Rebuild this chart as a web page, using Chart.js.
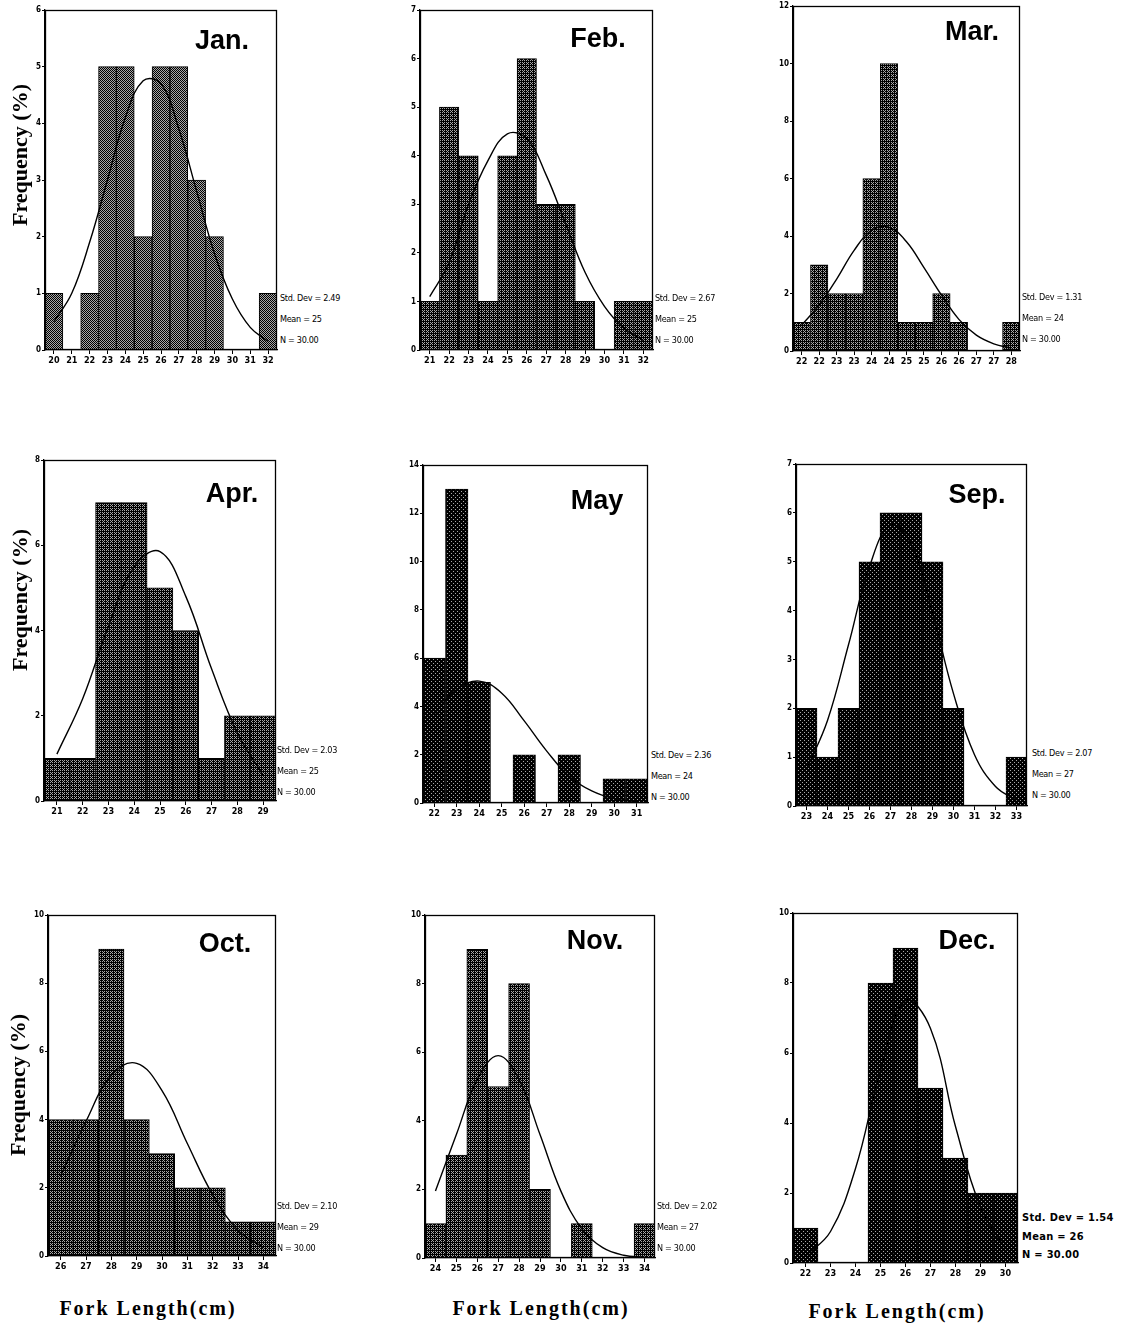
<!DOCTYPE html>
<html>
<head>
<meta charset="utf-8">
<script src="https://cdn.jsdelivr.net/npm/chart.js@4.4.1/dist/chart.umd.min.js"></script>
<style>
  html,body{margin:0;padding:0;background:#fff;}
  #page{position:relative;width:1121px;height:1325px;overflow:hidden;background:#fff;}
  canvas{position:absolute;}
  .month{position:absolute;font-family:"Liberation Sans",Arial,sans-serif;font-weight:bold;font-size:27px;color:#000;transform:translate(-50%,-50%);white-space:nowrap;}
  .stats{position:absolute;font-family:"Liberation Sans Narrow","DejaVu Sans Condensed","Liberation Sans",Arial,sans-serif;font-size:9px;color:#000;white-space:nowrap;line-height:1;transform:translateY(-50%);letter-spacing:-0.3px;}
  .stats.big{font-weight:bold;font-size:11px;letter-spacing:0.3px;}
  .ylab{position:absolute;font-family:"Liberation Serif","Times New Roman",serif;font-weight:bold;font-size:22px;color:#000;white-space:nowrap;transform:translate(-50%,-50%) rotate(-90deg);}
  .xlab{position:absolute;font-family:"Liberation Serif","Times New Roman",serif;font-weight:bold;font-size:20px;letter-spacing:2px;color:#000;white-space:nowrap;transform:translate(-50%,-50%);}
</style>
</head>
<body>
<div id="page"></div>
<script>
// ---------------- DATA ----------------
const janLabels = ['20','21','22','23','24','25','26','27','28','29','30','31','32'];
const janCounts = [1,0,1,5,5,2,5,5,3,2,0,0,1];
const janCurve  = [0.5,1.0,1.9,3.0,4.1,4.75,4.7,3.9,2.8,1.7,0.9,0.4,0.15];

const febLabels = ['21','22','23','24','25','26','27','28','29','30','31','32'];
const febCounts = [1,5,4,1,4,6,3,3,1,0,1,1];
const febCurve  = [1.1,1.8,3.0,3.9,4.45,4.35,3.6,2.6,1.6,0.9,0.45,0.2];

const marLabels = ['22','22','23','23','24','24','25','25','26','26','27','27','28'];
const marCounts = [1,3,2,2,6,10,1,1,2,1,0,0,1];
const marCurve  = [0.9,1.6,2.5,3.5,4.2,4.3,3.8,2.9,1.95,1.1,0.55,0.25,0.1];

const aprLabels = ['21','22','23','24','25','26','27','28','29'];
const aprCounts = [1,1,7,7,5,4,1,2,2];
const aprCurve  = [1.1,2.4,4.1,5.5,5.85,4.8,3.1,1.6,0.6];

const mayLabels = ['22','23','24','25','26','27','28','29','30','31'];
const mayCounts = [6,13,5,0,2,0,2,0,1,1];
const mayCurve  = [3.7,4.7,5.05,4.55,3.4,2.15,1.1,0.5,0.18,0.05];

const sepLabels = ['23','24','25','26','27','28','29','30','31','32','33'];
const sepCounts = [2,1,2,5,6,6,5,2,0,0,1];
const sepCurve  = [0.75,1.75,3.3,4.9,5.75,5.35,3.95,2.3,1.05,0.4,0.12];

const octLabels = ['26','27','28','29','30','31','32','33','34'];
const octCounts = [4,4,9,4,3,2,2,1,1];
const octCurve  = [2.35,3.95,5.3,5.65,4.85,3.3,1.8,0.75,0.25];

const novLabels = ['24','25','26','27','28','29','30','31','32','33','34'];
const novCounts = [1,3,9,5,8,2,0,1,0,0,1];
const novCurve  = [1.95,3.6,5.2,5.9,5.2,3.6,1.95,0.85,0.3,0.08,0.02];

const decLabels = ['22','23','24','25','26','27','28','29','30'];
const decCounts = [1,0,0,8,9,5,3,2,2];
const decCurve  = [0.2,0.9,2.7,5.5,7.5,6.7,3.9,1.6,0.4];

const monthNames = ['Jan.','Feb.','Mar.','Apr.','May','Sep.','Oct.','Nov.','Dec.'];
const stdDevs    = ['2.49','2.67','1.31','2.03','2.36','2.07','2.10','2.02','1.54'];
const means      = ['25','25','24','25','24','27','29','27','26'];
const nValues    = ['30.00','30.00','30.00','30.00','30.00','30.00','30.00','30.00','30.00'];
const yMaxes     = [6,7,12,8,14,7,10,10,10];
const ySteps     = [1,1,2,2,2,1,2,2,2];

// ---------------- LAYOUT / STYLE ----------------
const panels = [
  {labels:janLabels,counts:janCounts,curve:janCurve,box:[45,10,277,350],title:[222,40],stats:[280,298],tone:'light'},
  {labels:febLabels,counts:febCounts,curve:febCurve,box:[420,10,653,350],title:[598,38],stats:[655,298],tone:'mid'},
  {labels:marLabels,counts:marCounts,curve:marCurve,box:[793,6,1020,351],title:[972,31],stats:[1022,297],tone:'mid'},
  {labels:aprLabels,counts:aprCounts,curve:aprCurve,box:[44,460,276,801],title:[232,493],stats:[277,750],tone:'mid'},
  {labels:mayLabels,counts:mayCounts,curve:mayCurve,box:[423,465,648,803],title:[597,500],stats:[651,755],tone:'dark'},
  {labels:sepLabels,counts:sepCounts,curve:sepCurve,box:[796,464,1027,806],title:[977,494],stats:[1032,753],tone:'dark'},
  {labels:octLabels,counts:octCounts,curve:octCurve,box:[48,915,276,1256],title:[225,943],stats:[277,1206],tone:'mid'},
  {labels:novLabels,counts:novCounts,curve:novCurve,box:[425,915,655,1258],title:[595,940],stats:[657,1206],tone:'mid'},
  {labels:decLabels,counts:decCounts,curve:decCurve,box:[793,913,1018,1263],title:[967,940],stats:[1022,1217],tone:'dark',big:true}
];

const YW = 40, PR = 3, PT = 8, XH = 22;
const page = document.getElementById('page');

function makePattern(tone){
  const c = document.createElement('canvas');
  c.width = 4; c.height = 4;
  const g = c.getContext('2d');
  g.fillStyle = '#000'; g.fillRect(0,0,4,4);
  g.fillStyle = '#a8a8a8';
  for(let y=0;y<4;y++) for(let x=0;x<4;x++){
    let on;
    if(tone==='light') on = (x+y)%2===0;
    else if(tone==='mid') on = (x%2===0 && y%2===0) || (x===3 && y===1);
    else on = (x===0 && y===0) || (x===2 && y===2);
    if(on) g.fillRect(x,y,1,1);
  }
  return g.createPattern(c,'repeat');
}

const framePlugin = {
  id:'frame',
  afterDraw(chart){
    const a = chart.chartArea, ctx = chart.ctx;
    ctx.save();
    ctx.strokeStyle = '#000';
    ctx.lineWidth = 1.3;
    ctx.strokeRect(a.left+0.5, a.top+0.5, a.right-a.left-1, a.bottom-a.top-1);
    ctx.restore();
  }
};

const tickFont = {family:'"Liberation Sans Narrow","DejaVu Sans Condensed","Liberation Sans",Arial,sans-serif', size:9, weight:'bold'};

panels.forEach((p,i)=>{
  const [L,T,R,B] = p.box;
  const w = (R-L) + YW + PR, h = (B-T) + PT + XH;
  const cv = document.createElement('canvas');
  cv.width = w; cv.height = h;
  cv.style.left = (L-YW)+'px'; cv.style.top = (T-PT)+'px';
  cv.style.width = w+'px'; cv.style.height = h+'px';
  page.appendChild(cv);

  new Chart(cv, {
    data:{
      labels:p.labels,
      datasets:[
        {type:'line', data:p.curve, borderColor:'#000', borderWidth:1.4, pointRadius:0, tension:0.4, fill:false, order:0},
        {type:'bar', data:p.counts, backgroundColor:makePattern(p.tone), borderColor:'#000', borderWidth:1,
         categoryPercentage:1, barPercentage:1, order:1}
      ]
    },
    options:{
      responsive:false, animation:false, devicePixelRatio:1,
      layout:{padding:{top:PT,right:PR,left:0,bottom:0}},
      plugins:{legend:{display:false}, tooltip:{enabled:false}},
      scales:{
        x:{type:'category', offset:true,
           grid:{display:true, drawOnChartArea:false, drawTicks:true, tickLength:4, offset:false, color:'#000', lineWidth:1},
           border:{display:true, color:'#000', width:1.3},
           ticks:{color:'#000', font:tickFont, padding:1, maxRotation:0, autoSkip:false},
           afterFit(s){ s.height = XH; }},
        y:{min:0, max:yMaxes[i],
           ticks:{stepSize:ySteps[i], color:'#000', font:{...tickFont, size:8}, padding:1},
           grid:{display:true, drawOnChartArea:false, drawTicks:true, tickLength:3, color:'#000'},
           border:{display:true, color:'#000', width:1.3},
           afterFit(s){ s.width = YW; }}
      }
    },
    plugins:[framePlugin]
  });

  const t = document.createElement('div');
  t.className = 'month'; t.textContent = monthNames[i];
  t.style.left = p.title[0]+'px'; t.style.top = p.title[1]+'px';
  page.appendChild(t);

  const lines = ['Std. Dev = '+stdDevs[i], 'Mean = '+means[i], 'N = '+nValues[i]];
  const gap = p.big ? 18.5 : 21;
  lines.forEach((txt,k)=>{
    const s = document.createElement('div');
    s.className = 'stats' + (p.big ? ' big' : '');
    s.textContent = txt;
    s.style.left = p.stats[0]+'px';
    s.style.top = (p.stats[1] + k*gap)+'px';
    page.appendChild(s);
  });
});

// axis titles
[[20,155],[20,600],[18,1085]].forEach(([x,y])=>{
  const d = document.createElement('div');
  d.className = 'ylab'; d.textContent = 'Frequency (%)';
  d.style.left = x+'px'; d.style.top = y+'px';
  page.appendChild(d);
});
[[148,1308],[541,1308],[897,1311]].forEach(([x,y])=>{
  const d = document.createElement('div');
  d.className = 'xlab'; d.textContent = 'Fork Length(cm)';
  d.style.left = x+'px'; d.style.top = y+'px';
  page.appendChild(d);
});
</script>
</body>
</html>
